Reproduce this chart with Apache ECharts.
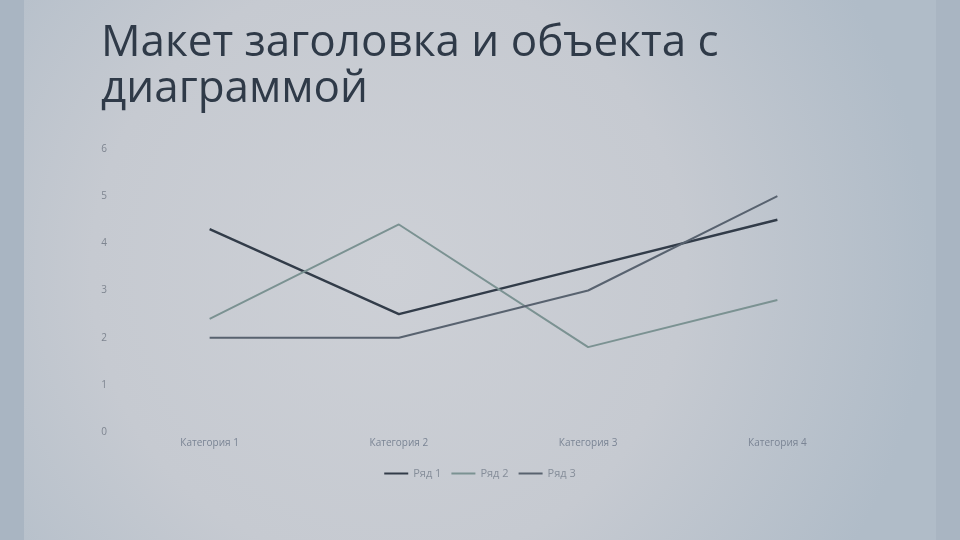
<!DOCTYPE html>
<html>
<head>
<meta charset="utf-8">
<script src="https://cdn.jsdelivr.net/npm/echarts@6/dist/echarts.min.js"></script>
<style>
html,body{margin:0;padding:0;background:#a9b5c2;}
#c{width:960px;height:540px;}
</style>
</head>
<body>
<div id="c"></div>
<script>
const titleText = 'Макет заголовка и объекта с\nдиаграммой';
const categories = ['Категория 1', 'Категория 2', 'Категория 3', 'Категория 4'];
const seriesNames = ['Ряд 1', 'Ряд 2', 'Ряд 3'];
const row1 = [4.3, 2.5, 3.5, 4.5];
const row2 = [2.4, 4.4, 1.8, 2.8];
const row3 = [2, 2, 3, 5];
const yTicks = [0, 1, 2, 3, 4, 5, 6];

const colors = ['#323c49', '#7b9292', '#58626f'];
const widths = [2.4, 2, 2];
const dataRows = [row1, row2, row3];

const chart = echarts.init(document.getElementById('c'), null, {renderer: 'canvas'});
chart.setOption({
  animation: false,
  backgroundColor: 'transparent',
  graphic: [{
    type: 'rect', z: -10, silent: true,
    shape: {x: 24, y: 0, width: 912, height: 540},
    style: {
      fill: {
        type: 'radial', x: 0.4, y: 0.5, r: 1.0,
        colorStops: [
          {offset: 0, color: '#cdd0d6'},
          {offset: 0.55, color: '#c6cad1'},
          {offset: 1, color: '#b0bcc8'}
        ]
      }
    }
  }],
  title: {
    text: titleText,
    left: 96, top: 15,
    textStyle: {
      fontFamily: 'Open Sans', fontSize: 44, fontWeight: 'normal',
      color: '#2f3a48', lineHeight: 46
    }
  },
  color: colors,
  legend: {
    data: seriesNames,
    bottom: 56, left: 'center',
    itemWidth: 24, itemHeight: 2, itemGap: 10,
    icon: 'rect',
    textStyle: {fontFamily: 'Open Sans', fontSize: 11, color: '#858d99'}
  },
  grid: {left: 115, right: 88, top: 149, bottom: 108, containLabel: false},
  xAxis: {
    type: 'category', data: categories, boundaryGap: true,
    axisLine: {show: false}, axisTick: {show: false},
    axisLabel: {margin: 6, fontFamily: 'Open Sans', fontSize: 10, color: '#7a8494'}
  },
  yAxis: {
    type: 'value', min: yTicks[0], max: yTicks[yTicks.length - 1], interval: 1,
    axisLine: {show: false}, axisTick: {show: false},
    splitLine: {show: false},
    axisLabel: {margin: 8, fontFamily: 'Open Sans', fontSize: 10, color: '#7e8590'}
  },
  series: seriesNames.map((n, i) => ({
    name: n, type: 'line', data: dataRows[i],
    symbol: 'none', smooth: false,
    lineStyle: {width: widths[i], color: colors[i]},
    itemStyle: {color: colors[i]}
  }))
});
</script>
</body>
</html>
